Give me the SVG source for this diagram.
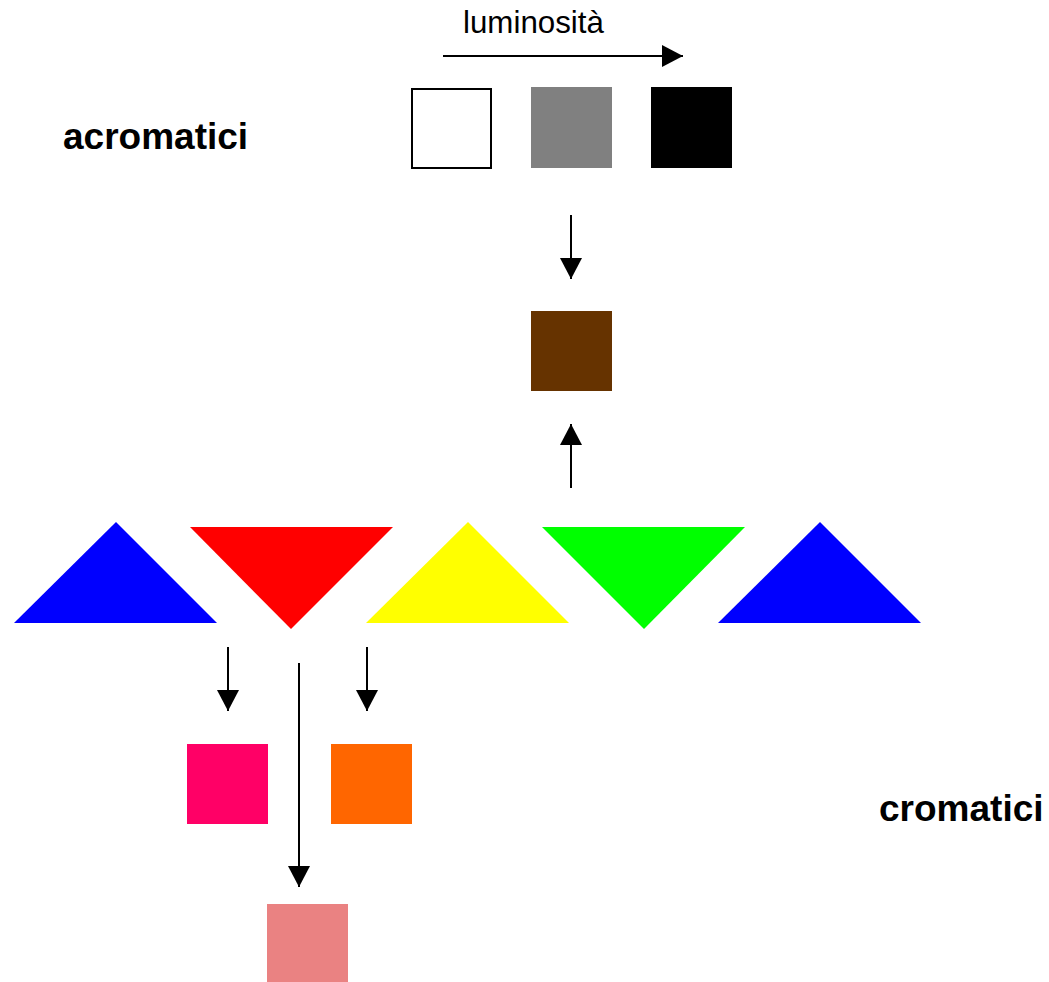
<svg xmlns="http://www.w3.org/2000/svg" width="1049" height="982" viewBox="0 0 1049 982">
<style>
.lbl{font-family:"Liberation Sans",Arial,sans-serif;fill:#000}
.bold{font-weight:bold;font-size:37px}
.conn{stroke:#000;stroke-width:2;fill:none;marker-end:url(#ah)}
</style>
<defs>
<marker id="ah" markerUnits="userSpaceOnUse" markerWidth="21" markerHeight="22" refX="21" refY="11" orient="auto">
<path d="M0,0 L21,11 L0,22 Z" fill="#000"/>
</marker>
</defs>
<rect width="1049" height="982" fill="#fff"/>
<text class="lbl bold" x="63" y="149">acromatici</text>
<text class="lbl bold" x="879" y="821">cromatici</text>
<text class="lbl" x="463" y="33" font-size="31.3">luminosità</text>
<g id="white"><rect x="412" y="89" width="79" height="79" fill="#fff" stroke="#000" stroke-width="2"/></g>
<g id="gray"><rect x="531" y="87" width="81" height="81" fill="#808080"/></g>
<g id="black"><rect x="651" y="87" width="81" height="81" fill="#000"/></g>
<g id="brown"><rect x="531" y="311" width="81" height="80" fill="#663300"/></g>
<g id="blue1"><polygon points="14,623 116,522 217,623" fill="#0000ff"/></g>
<g id="red"><polygon points="190,527 393,527 291,629" fill="#ff0000"/></g>
<g id="yellow"><polygon points="366,623 468,522 569,623" fill="#ffff00"/></g>
<g id="green"><polygon points="542,527 745,527 644,629" fill="#00ff00"/></g>
<g id="blue2"><polygon points="718,623 820,522 921,623" fill="#0000ff"/></g>
<g id="pink"><rect x="187" y="744" width="81" height="80" fill="#ff0066"/></g>
<g id="orange"><rect x="331" y="744" width="81" height="80" fill="#ff6600"/></g>
<g id="salmon"><rect x="267" y="904" width="81" height="80" fill="#ea8282"/></g>
<g id="connectors">
<line class="conn" x1="443" y1="56" x2="683" y2="56"/>
<line class="conn" x1="571" y1="215" x2="571" y2="279"/>
<line class="conn" x1="571" y1="488" x2="571" y2="424"/>
<line class="conn" x1="228" y1="647" x2="228" y2="711"/>
<line class="conn" x1="367" y1="647" x2="367" y2="711"/>
<line class="conn" x1="299" y1="663" x2="299" y2="887"/>
</g>
</svg>
